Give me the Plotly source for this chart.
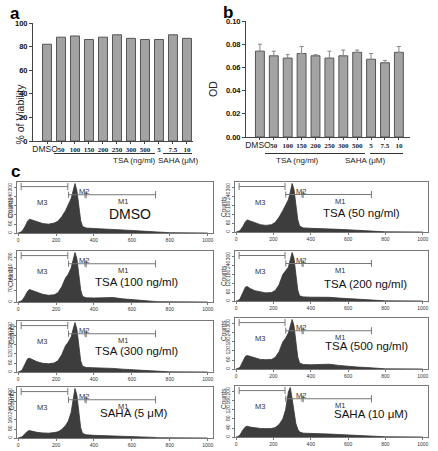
import plotly.graph_objects as go

W, H = 438, 451

# ---------- Data ----------
categories = ["DMSO", "50", "100", "150", "200", "250", "300", "500", "5", "7.5", "10"]
viability = [82, 88, 89, 86, 88, 90, 87, 86, 86, 90, 87]
od_values = [0.074, 0.070, 0.068, 0.072, 0.070, 0.068, 0.070, 0.073, 0.067, 0.064, 0.073]
od_errors = [0.006, 0.004, 0.003, 0.006, 0.001, 0.006, 0.005, 0.002, 0.005, 0.002, 0.005]

channels = [0, 10, 20, 35, 50, 60, 75, 100, 130, 160, 190, 210, 230, 250, 265, 280, 290,
            300, 310, 320, 330, 340, 360, 400, 450, 500, 550, 600, 650, 700, 725, 735, 800, 1000]

hist_titles = ["DMSO", "TSA (50 ng/ml)", "TSA (100 ng/ml)", "TSA (200 ng/ml)",
               "TSA (300 ng/ml)", "TSA (500 ng/ml)", "SAHA (5 μM)", "SAHA (10 μM)"]
counts_dmso = [0, 3, 10, 40, 79, 92, 86, 73, 63, 59, 66, 79, 109, 149, 191, 231, 281, 330, 281, 182, 83, 43, 33, 30, 28, 25, 20, 17, 13, 10, 8, 3, 2, 0]
counts_tsa50 = [0, 2, 8, 35, 70, 82, 76, 62, 50, 45, 50, 66, 100, 145, 185, 220, 270, 330, 290, 190, 85, 40, 28, 25, 24, 22, 18, 15, 12, 9, 7, 3, 1, 0]
counts_tsa100 = [0, 2, 8, 35, 68, 78, 72, 60, 48, 42, 45, 58, 95, 150, 175, 215, 260, 310, 270, 170, 75, 35, 26, 25, 28, 28, 20, 15, 11, 8, 6, 2, 1, 0]
counts_tsa200 = [0, 3, 12, 55, 95, 98, 85, 70, 60, 55, 58, 72, 110, 180, 205, 230, 280, 330, 290, 180, 75, 35, 28, 26, 26, 25, 20, 16, 12, 9, 7, 3, 1, 0]
counts_tsa300 = [0, 3, 10, 50, 88, 92, 82, 68, 58, 55, 60, 75, 115, 175, 200, 235, 285, 330, 285, 175, 75, 38, 30, 28, 27, 24, 19, 15, 12, 9, 7, 3, 1, 0]
counts_tsa500 = [0, 3, 10, 48, 85, 90, 84, 72, 64, 62, 64, 78, 115, 180, 205, 240, 290, 330, 290, 185, 80, 40, 30, 28, 30, 32, 24, 17, 13, 10, 8, 3, 1, 0]
counts_saha5 = [0, 3, 10, 35, 60, 66, 58, 50, 45, 43, 48, 55, 75, 110, 150, 230, 340, 440, 380, 220, 90, 40, 28, 24, 22, 20, 16, 13, 10, 7, 5, 2, 1, 0]
counts_saha10 = [0, 2, 8, 30, 45, 48, 44, 40, 38, 37, 38, 42, 55, 80, 120, 200, 220, 170, 110, 60, 35, 22, 17, 15, 14, 13, 11, 9, 8, 6, 5, 2, 1, 0]
hist_counts = [counts_dmso, counts_tsa50, counts_tsa100, counts_tsa200,
               counts_tsa300, counts_tsa500, counts_saha5, counts_saha10]
hist_ymax = [330, 330, 310, 330, 330, 330, 440, 220]
hist_dtick = [60, 60, 70, 60, 60, 60, 80, 40]

# marker gates (channel ranges)
m3_range = [16, 262]
m2_range = [266, 353]
m1_range = [353, 725]

SANS = "Liberation Sans"
SERIF = "Liberation Serif"

def fx(px):
    return px / W

def fy(py):
    return 1 - py / H

fig = go.Figure()
layout = dict(width=W, height=H, margin=dict(l=0, r=0, t=0, b=0, autoexpand=False),
              paper_bgcolor="white", plot_bgcolor="white", showlegend=False)
annotations = []
shapes = []

def ticktext_list():
    out = []
    for c in categories:
        if c == "DMSO":
            out.append('<span style="font-size:8.5px">DMSO</span>&nbsp;&nbsp;')
        else:
            out.append('<span style="font-family:%s;font-weight:bold">%s</span>' % (SERIF, c))
    return out

xs = list(range(len(categories)))

# ---------- Panel a ----------
fig.add_trace(go.Bar(x=xs, y=viability, width=0.64, marker=dict(color="#a3a3a3", line=dict(color="#555555", width=1)),
                     xaxis="x", yaxis="y"))
# ---------- Panel b ----------
fig.add_trace(go.Bar(x=xs, y=od_values, width=0.64, marker=dict(color="#a3a3a3", line=dict(color="#555555", width=1)),
                     error_y=dict(type="data", array=od_errors, symmetric=False, arrayminus=[0]*len(od_errors),
                                  color="#888888", thickness=1, width=2),
                     xaxis="x2", yaxis="y2"))

bar_panels = [
    dict(xa="xaxis", ya="yaxis", xref="x", dom_x=(33, 193), dom_y=(141, 23), rng_x=[-1, 10.43],
         rng_y=[0, 100], dtick=20, fmt="d", title="% of Viability", tx=11, label="a", lx=8, ly=2,
         tsa=(54, 155), saha=(163, 192)),
    dict(xa="xaxis2", ya="yaxis2", xref="x2", dom_x=(246, 410), dom_y=(137, 21), rng_x=[-1, 10.8],
         rng_y=[0, 0.10], dtick=0.02, fmt=".2f", title="OD", tx=213, label="b", lx=228, ly=1,
         tsa=(265, 365), saha=(370, 403)),
]
for bp in bar_panels:
    layout[bp["xa"]] = dict(domain=[fx(bp["dom_x"][0]), fx(bp["dom_x"][1])], range=bp["rng_x"],
                            anchor=bp["ya"].replace("yaxis", "y"),
                            tickmode="array", tickvals=xs, ticktext=ticktext_list(),
                            tickfont=dict(family=SANS, size=7, color="#222"), tickangle=0,
                            showline=True, linecolor="#444", linewidth=1, ticks="outside", ticklen=2,
                            tickcolor="#444", showgrid=False, zeroline=False, fixedrange=True)
    layout[bp["ya"]] = dict(domain=[fy(bp["dom_y"][0]), fy(bp["dom_y"][1])], range=bp["rng_y"],
                            anchor=bp["xa"].replace("xaxis", "x"), dtick=bp["dtick"], tickformat=bp["fmt"],
                            tickfont=dict(family=SANS, size=7.5, color="#111", weight="bold"),
                            showline=True, linecolor="#444", linewidth=1, ticks="outside", ticklen=3,
                            tickcolor="#444", showgrid=False, zeroline=False, fixedrange=True)
    annotations.append(dict(x=fx(bp["tx"]), y=fy((bp["dom_y"][0] + bp["dom_y"][1]) / 2), xref="paper", yref="paper",
                            text=bp["title"], textangle=-90, showarrow=False,
                            font=dict(family=SANS, size=10.5, color="#222")))
    annotations.append(dict(x=fx(bp["lx"]), y=fy(bp["ly"]), xref="paper", yref="paper", text="<b>%s</b>" % bp["label"],
                            showarrow=False, yanchor="top", font=dict(family=SANS, size=17, color="#000")))
    # group underlines and labels
    shapes.append(dict(type="line", xref="paper", yref="paper", x0=fx(bp["tsa"][0]), x1=fx(bp["tsa"][1]),
                       y0=fy(153.5), y1=fy(153.5), line=dict(color="#333", width=1)))
    shapes.append(dict(type="line", xref="paper", yref="paper", x0=fx(bp["saha"][0]), x1=fx(bp["saha"][1]),
                       y0=fy(153.5), y1=fy(153.5), line=dict(color="#333", width=1)))
    annotations.append(dict(x=fx((bp["tsa"][0] + bp["tsa"][1]) / 2 + 6), y=fy(160), xref="paper", yref="paper",
                            text="TSA (ng/ml)", showarrow=False, font=dict(family=SANS, size=8, color="#222")))
    annotations.append(dict(x=fx((bp["saha"][0] + bp["saha"][1]) / 2 + 1), y=fy(160), xref="paper", yref="paper",
                            text="SAHA (μM)", showarrow=False, font=dict(family=SANS, size=8, color="#222")))

annotations.append(dict(x=fx(9), y=fy(160), xref="paper", yref="paper", text="<b>c</b>", yanchor="top",
                        showarrow=False, font=dict(family=SANS, size=17, color="#000")))

# ---------- Panel c histograms ----------
col_x = [(17, 213), (235, 428)]
row_y = [[(182, 233), (251, 302), (321, 372), (387, 438)],
         [(182, 232), (251, 301), (318, 369), (386, 437)]]
title_pos = [(590, 0.38), (670, 0.38), (626, 0.40), (693, 0.34),
             (626, 0.42), (700, 0.30), (612, 0.33), (722, 0.29)]

for k in range(8):
    col = k % 2
    row = k // 2
    n = k + 3
    xa, ya = "x%d" % n, "y%d" % n
    fig.add_trace(go.Scatter(x=channels, y=hist_counts[k], mode="lines", fill="tozeroy",
                             line=dict(color="#333333", width=0.8), fillcolor="#3d3d3d",
                             xaxis=xa, yaxis=ya, hoverinfo="skip"))
    x0, x1 = col_x[col]
    ytop, ybot = row_y[col][row]
    layout["xaxis%d" % n] = dict(domain=[fx(x0), fx(x1)], range=[-6, 1028], anchor=ya,
                                 tickvals=[0, 200, 400, 600, 800, 1000],
                                 tickfont=dict(family=SANS, size=5, color="#333"),
                                 showline=True, mirror=True, linecolor="#777", linewidth=1,
                                 ticks="outside", ticklen=2, tickcolor="#777",
                                 showgrid=False, zeroline=False, fixedrange=True)
    layout["yaxis%d" % n] = dict(domain=[fy(ybot), fy(ytop)], range=[0, hist_ymax[k] * 1.03], anchor=xa,
                                 dtick=hist_dtick[k], tickangle=-90,
                                 tickfont=dict(family=SANS, size=5, color="#333"),
                                 showline=True, mirror=True, linecolor="#777", linewidth=1,
                                 ticks="outside", ticklen=2, tickcolor="#777",
                                 showgrid=False, zeroline=False, fixedrange=True)
    annotations.append(dict(x=fx(x0 - 12), y=fy((ytop + ybot) / 2), xref="paper", yref="paper", text="Counts",
                            textangle=-90, showarrow=False, font=dict(family=SANS, size=6.5, color="#333")))
    yd = "%s domain" % ya
    gray = "#777777"
    # M3
    shapes.append(dict(type="line", xref=xa, yref=yd, x0=m3_range[0], x1=m3_range[1], y0=0.91, y1=0.91,
                       line=dict(color=gray, width=1)))
    for xv in m3_range:
        shapes.append(dict(type="line", xref=xa, yref=yd, x0=xv, x1=xv, y0=0.84, y1=0.98,
                           line=dict(color=gray, width=1)))
    # M2
    shapes.append(dict(type="line", xref=xa, yref=yd, x0=m2_range[0], x1=m2_range[1], y0=0.75, y1=0.75,
                       line=dict(color=gray, width=1)))
    for xv in m2_range:
        shapes.append(dict(type="line", xref=xa, yref=yd, x0=xv, x1=xv, y0=0.69, y1=0.81,
                           line=dict(color=gray, width=1)))
    # M1
    shapes.append(dict(type="line", xref=xa, yref=yd, x0=m1_range[0], x1=m1_range[1], y0=0.75, y1=0.75,
                       line=dict(color=gray, width=1)))
    for xv in m1_range:
        shapes.append(dict(type="line", xref=xa, yref=yd, x0=xv + (6 if xv == m1_range[0] else 0),
                           x1=xv + (6 if xv == m1_range[0] else 0), y0=0.68, y1=0.82,
                           line=dict(color=gray, width=1)))
    annotations.append(dict(x=126, y=0.73, xref=xa, yref=yd, text="M3", showarrow=False,
                            font=dict(family=SANS, size=7.5, color="#333")))
    annotations.append(dict(x=345, y=0.94, xref=xa, yref=yd, text="M2", showarrow=False,
                            font=dict(family=SANS, size=7.5, color="#333")))
    annotations.append(dict(x=554, y=0.62, xref=xa, yref=yd, text="M1", showarrow=False,
                            font=dict(family=SANS, size=7.5, color="#333")))
    annotations.append(dict(x=title_pos[k][0], y=title_pos[k][1], xref=xa, yref=yd, text=hist_titles[k],
                            showarrow=False, font=dict(family=SANS, size=14 if k == 0 else 11.5, color="#111")))

layout["annotations"] = annotations
layout["shapes"] = shapes
layout["bargap"] = 0.3
fig.update_layout(**layout)
fig.write_html("out.html", config={"displayModeBar": False},
               post_script="document.body.style.margin='0';document.body.style.padding='0';")
